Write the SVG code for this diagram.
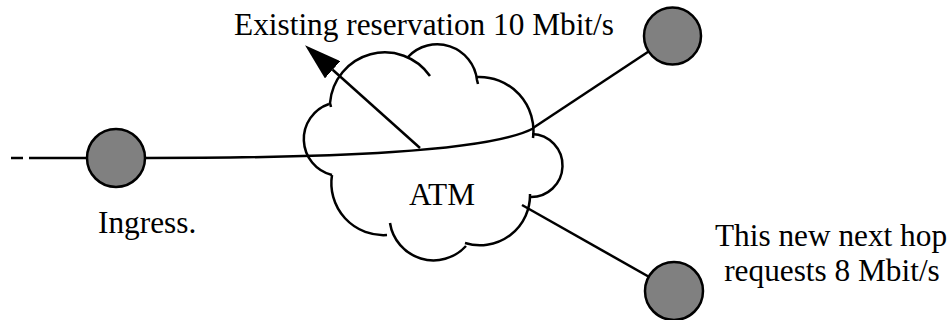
<svg xmlns="http://www.w3.org/2000/svg" width="951" height="320" viewBox="0 0 951 320">
<style>
.ln{fill:none;stroke:#000;stroke-width:2.5}
.nd{fill:#808080;stroke:#000;stroke-width:2.5}
.tx{font-family:"Liberation Serif","Times New Roman",serif;font-size:31.3px;fill:#000;stroke:none}
</style>
<defs>
<marker id="arrow" viewBox="0 0 37 23" refX="0" refY="11.5" markerWidth="37" markerHeight="23" markerUnits="userSpaceOnUse" orient="auto">
<path d="M0,0 L37,11.5 L0,23 z" fill="#000"/>
</marker>
</defs>
<rect width="951" height="320" fill="#fff"/>
<g id="atm-cloud">
<g class="ln">
<path d="M331,107 L330,103 A55,55 0 0 1 430,76"/>
<path d="M408,57 A40,40 0 0 1 477,80 L478,84"/>
<path d="M477,77 A54,54 0 0 1 533,138"/>
<path d="M532,134 A31,31 0 0 1 530,197"/>
<path d="M530,194 A50,50 0 0 1 465,243"/>
<path d="M466,246 A44,44 0 0 1 390,223"/>
<path d="M387,235 A52,52 0 0 1 332,175"/>
<path d="M332,175 A37,37 0 0 1 329,104"/>
</g>
<text class="tx" x="442" y="205" text-anchor="middle">ATM</text>
</g>
<g id="connectors" class="ln">
<line x1="11" y1="158" x2="23" y2="158"/>
<line x1="29" y1="158" x2="116" y2="158"/>
<path d="M116,158 L145,158 C330,158 490,152 534,128"/>
<line x1="533" y1="128" x2="672" y2="36"/>
<line x1="522" y1="205" x2="674" y2="291"/>
<line x1="420" y1="148" x2="332.6" y2="69.8" marker-end="url(#arrow)"/>
</g>
<g id="ingress">
<circle class="nd" cx="116" cy="158" r="29"/>
<text class="tx" x="98" y="233">Ingress.</text>
</g>
<g id="next-hop-top">
<circle class="nd" cx="672.5" cy="36" r="28.5"/>
</g>
<g id="next-hop-new">
<circle class="nd" cx="674" cy="291" r="29"/>
<text class="tx" x="831" y="246" text-anchor="middle">This new next hop</text>
<text class="tx" x="832" y="281" text-anchor="middle">requests 8 Mbit/s</text>
</g>
<g id="label-existing">
<text class="tx" x="424" y="35" text-anchor="middle">Existing reservation 10 Mbit/s</text>
</g>
</svg>
